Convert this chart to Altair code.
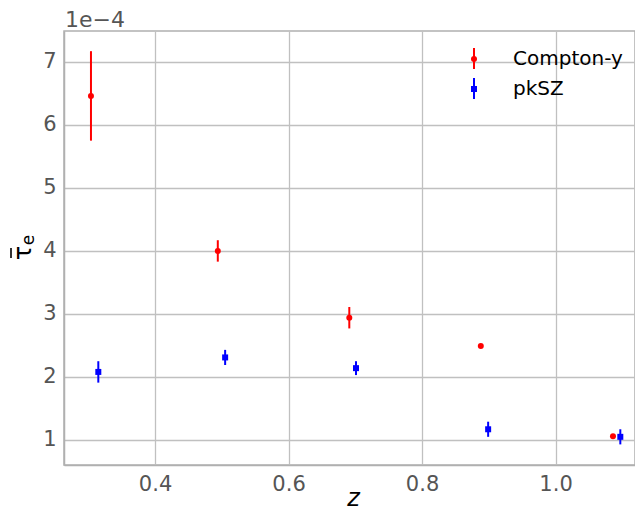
import altair as alt
import pandas as pd

# ---- data (tau in units of 1e-4) ----
series_names = ["Compton-y", "pkSZ"]
series_colors = ["#ff0000", "#0000ff"]
series_shapes = ["circle", "square"]

z_compton = [0.304, 0.494, 0.691, 0.888, 1.086]
tau_compton = [6.46, 4.00, 2.94, 2.49, 1.06]
err_compton = [0.71, 0.17, 0.17, 0.02, 0.02]

z_pksz = [0.315, 0.505, 0.701, 0.899, 1.097]
tau_pksz = [2.08, 2.31, 2.14, 1.17, 1.05]
err_pksz = [0.17, 0.12, 0.11, 0.12, 0.12]

x_ticks = [0.4, 0.6, 0.8, 1.0]
y_ticks = [1, 2, 3, 4, 5, 6, 7]
offset_text = ["1e\u22124"]
y_title_main = ["\u03c4"]
y_title_sub = ["e"]

rows = []
for name, zs, ts, es in [("Compton-y", z_compton, tau_compton, err_compton),
                         ("pkSZ", z_pksz, tau_pksz, err_pksz)]:
    for z, t, e in zip(zs, ts, es):
        rows.append(dict(series=name, z=z, tau=t, lo=t - e, hi=t + e))
df = pd.DataFrame(rows)

FONT = "DejaVu Sans"
xscale = alt.Scale(domain=[0.2636, 1.119], nice=False, zero=False)
yscale = alt.Scale(domain=[0.603, 7.49], nice=False, zero=False)
color = alt.Color("series:N", scale=alt.Scale(domain=series_names, range=series_colors), legend=None)
shape = alt.Shape("series:N", scale=alt.Scale(domain=series_names, range=series_shapes), legend=None)

base = alt.Chart(df)
bars = base.mark_rule(strokeWidth=2).encode(
    x=alt.X("z:Q", scale=xscale,
            axis=alt.Axis(values=x_ticks, format=".1f", title="z", titleFontStyle="italic",
                          titleFontSize=24, titleBaseline="alphabetic", titleY=40,
                          titleX=289, labelPadding=8)),
    y=alt.Y("lo:Q", scale=yscale,
            axis=alt.Axis(values=y_ticks, format="d", title="", labelPadding=8)),
    y2="hi:Q",
    color=color,
)
pts = base.mark_point(filled=True, opacity=1, size=36).encode(
    x=alt.X("z:Q", scale=xscale),
    y=alt.Y("tau:Q", scale=yscale),
    color=color,
    shape=shape,
)

offset = alt.Chart(pd.DataFrame({"t": offset_text})).mark_text(
    align="left", baseline="alphabetic", fontSize=22, font=FONT, color="#555555"
).encode(text="t:N", x=alt.value(1), y=alt.value(-4))

# y-axis title: tau with an overbar and subscript e
ytitle = alt.Chart(pd.DataFrame({"t": y_title_main})).mark_text(
    align="center", baseline="middle", fontSize=24, font=FONT, color="black", angle=270
).encode(text="t:N", x=alt.value(-40), y=alt.value(222))
ybar = alt.Chart(pd.DataFrame({"t": y_title_main})).mark_rule(strokeWidth=1.6, color="black").encode(
    x=alt.value(-53), y=alt.value(217), y2=alt.value(227))
ysub = alt.Chart(pd.DataFrame({"t": y_title_sub})).mark_text(
    align="center", baseline="middle", fontSize=17, font=FONT, color="black", angle=270
).encode(text="t:N", x=alt.value(-35), y=alt.value(209))

layers = [bars, pts, offset, ytitle, ybar, ysub]
for i, (name, col, shp) in enumerate(zip(series_names, series_colors, series_shapes)):
    ldf = pd.DataFrame({"label": [name]})
    yc = 28 + 30 * i
    lb = alt.Chart(ldf)
    layers.append(lb.mark_rule(strokeWidth=2, color=col).encode(
        x=alt.value(410), y=alt.value(yc - 11), y2=alt.value(yc + 10)))
    layers.append(lb.mark_point(filled=True, opacity=1, size=36, color=col, shape=shp).encode(
        x=alt.value(410), y=alt.value(yc)))
    layers.append(lb.mark_text(align="left", baseline="middle", fontSize=20, font=FONT, color="black").encode(
        text="label:N", x=alt.value(449), y=alt.value(yc)))

chart = alt.layer(*layers).properties(
    width=571, height=434,
    autosize=alt.AutoSizeParams(type="none"),
    padding={"left": 56, "top": 23, "right": 0, "bottom": 45},
).configure_axis(
    labelFont=FONT, labelFontSize=21, labelColor="#555555",
    gridColor="#c0c0c0", gridWidth=1.3,
    domainColor="#b0b0b0", domainWidth=1.5, ticks=False,
    titleFont=FONT, titleColor="black", titleFontWeight="normal",
).configure_view(stroke="#b0b0b0", strokeWidth=1.5)

chart.save("out.html", embed_options={"renderer": "svg", "actions": False})
